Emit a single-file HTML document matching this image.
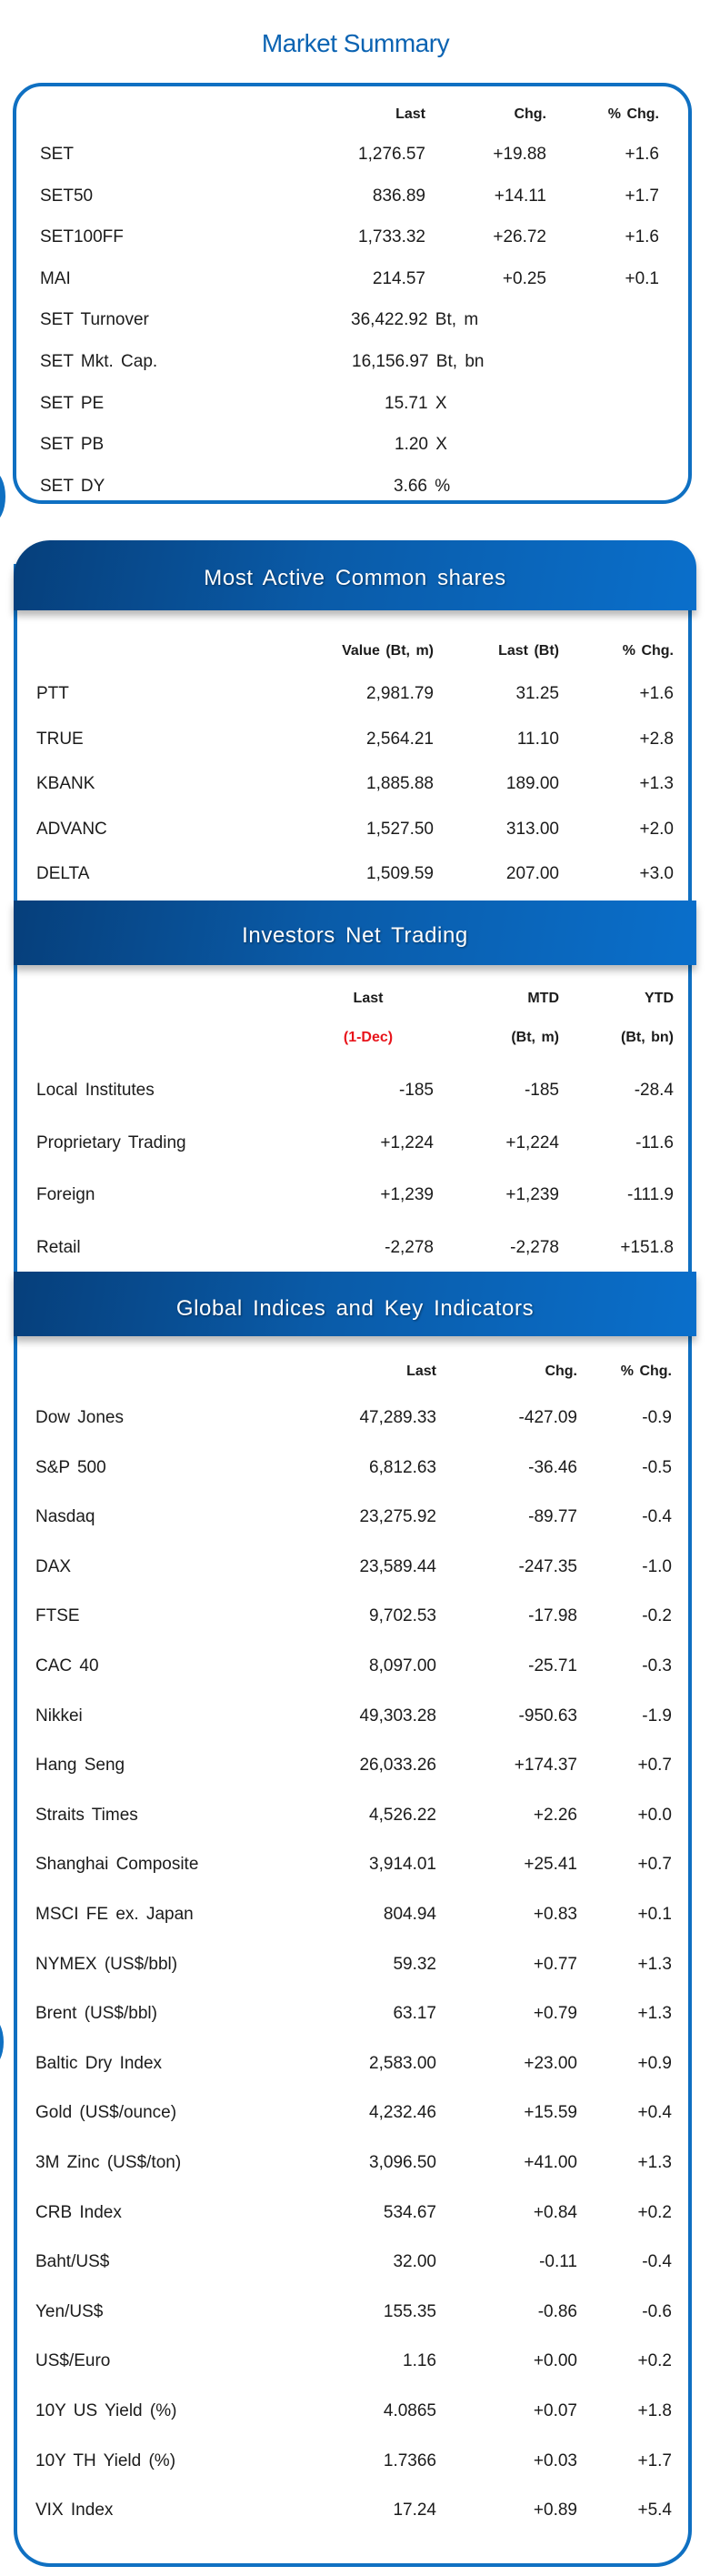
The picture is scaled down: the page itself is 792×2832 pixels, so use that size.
<!DOCTYPE html>
<html><head><meta charset="utf-8">
<style>
*{margin:0;padding:0;box-sizing:border-box}
body{width:792px;height:2832px;background:#fff;position:relative;overflow:hidden;font-family:"Liberation Sans",Arial,sans-serif;color:#1b1b1b}
.abs{position:absolute}
.t{position:absolute;white-space:nowrap;transform:translateY(-50%);font-size:19px;word-spacing:3px;line-height:24px}
.b{font-weight:bold;font-size:16px;word-spacing:2px}
.hdr{position:absolute;left:15px;width:751px;background:linear-gradient(100deg,#063f7b 0%,#0a5ba8 45%,#0a6fcb 100%);color:#fff;font-size:24px;text-align:center;letter-spacing:0.6px;word-spacing:4px;text-shadow:1px 1px 2px rgba(0,0,0,.45);box-shadow:0 6px 8px rgba(0,0,0,.28)}
</style></head><body>
<div class="abs" style="left:0;width:782px;top:32px;text-align:center;font-size:28px;color:#0b63b2;letter-spacing:-0.5px">Market Summary</div>
<div class="abs" style="left:14px;top:91px;width:747px;height:463px;border:4px solid #0f70c2;border-radius:32px"></div>
<div class="abs" style="left:-22px;top:518px;width:28px;height:56px;border-radius:50%;background:#0f70c2"></div>
<div class="abs" style="left:-26px;top:2217px;width:30px;height:56px;border-radius:50%;background:#0f70c2"></div>
<div class="abs" style="left:15px;top:620px;width:746px;height:2202px;border:4px solid #0f70c2;border-top:none;border-radius:0 0 40px 40px"></div>
<div class="hdr" style="top:594px;height:77px;line-height:84px;border-radius:40px 30px 0 0">Most Active Common shares</div>
<div class="hdr" style="top:990px;height:71px;line-height:78px">Investors Net Trading</div>
<div class="hdr" style="top:1398px;height:71px;line-height:82px">Global Indices and Key Indicators</div>
<div id="root"></div>
<script>
const mLabels=["SET","SET50","SET100FF","MAI","SET Turnover","SET Mkt. Cap.","SET PE","SET PB","SET DY"];
const mLast=["1,276.57","836.89","1,733.32","214.57"];
const mChg=["+19.88","+14.11","+26.72","+0.25"];
const mPct=["+1.6","+1.7","+1.6","+0.1"];
const mExtra=["36,422.92 Bt, m","16,156.97 Bt, bn","15.71 X","1.20 X","3.66 %"];
const maLabels=["PTT","TRUE","KBANK","ADVANC","DELTA"];
const maValue=["2,981.79","2,564.21","1,885.88","1,527.50","1,509.59"];
const maLast=["31.25","11.10","189.00","313.00","207.00"];
const maPct=["+1.6","+2.8","+1.3","+2.0","+3.0"];
const inLabels=["Local Institutes","Proprietary Trading","Foreign","Retail"];
const inLast=["-185","+1,224","+1,239","-2,278"];
const inMtd=["-185","+1,224","+1,239","-2,278"];
const inYtd=["-28.4","-11.6","-111.9","+151.8"];
const gLabels=["Dow Jones","S&P 500","Nasdaq","DAX","FTSE","CAC 40","Nikkei","Hang Seng","Straits Times","Shanghai Composite","MSCI FE ex. Japan","NYMEX (US$/bbl)","Brent (US$/bbl)","Baltic Dry Index","Gold (US$/ounce)","3M Zinc (US$/ton)","CRB Index","Baht/US$","Yen/US$","US$/Euro","10Y US Yield (%)","10Y TH Yield (%)","VIX Index"];
const gLast=["47,289.33","6,812.63","23,275.92","23,589.44","9,702.53","8,097.00","49,303.28","26,033.26","4,526.22","3,914.01","804.94","59.32","63.17","2,583.00","4,232.46","3,096.50","534.67","32.00","155.35","1.16","4.0865","1.7366","17.24"];
const gChg=["-427.09","-36.46","-89.77","-247.35","-17.98","-25.71","-950.63","+174.37","+2.26","+25.41","+0.83","+0.77","+0.79","+23.00","+15.59","+41.00","+0.84","-0.11","-0.86","+0.00","+0.07","+0.03","+0.89"];
const gPct=["-0.9","-0.5","-0.4","-1.0","-0.2","-0.3","-1.9","+0.7","+0.0","+0.7","+0.1","+1.3","+1.3","+0.9","+0.4","+1.3","+0.2","-0.4","-0.6","+0.2","+1.8","+1.7","+5.4"];
const root=document.getElementById('root');
function txt(s,x,y,align,cls){
  const d=document.createElement('div');
  d.className='t '+(cls||'');
  d.textContent=s;
  d.style.top=y+'px';
  if(align==='r'){d.style.right=(792-x)+'px';d.style.textAlign='right';}
  else if(align==='c'){d.style.left=(x-100)+'px';d.style.width='200px';d.style.textAlign='center';}
  else d.style.left=x+'px';
  root.appendChild(d);
  return d;
}
let e;
e=txt("Last",468,126,'r','b');


e=txt("Chg.",601,126,'r','b');


e=txt("% Chg.",725,126,'r','b');


const extraLeft=[386,387,423,434,433];
mLabels.forEach((l,i)=>{
  const y=170+i*45.6;
  e=txt(l,44,y,'l');
  
  
  if(i<4){
    e=txt(mLast[i],468,y,'r');
    
    
    e=txt(mChg[i],601,y,'r');
    
    
    e=txt(mPct[i],725,y,'r');
    
    
  } else {
    e=txt(mExtra[i-4],extraLeft[i-4],y,'l');
    
    
  }
});
e=txt("Value (Bt, m)",477,716,'r','b');


e=txt("Last (Bt)",615,716,'r','b');


e=txt("% Chg.",741,716,'r','b');


maLabels.forEach((l,i)=>{
  const y=763+i*49.5;
  e=txt(l,40,y,'l');
  
  
  e=txt(maValue[i],477,y,'r');
  
  
  e=txt(maLast[i],615,y,'r');
  
  
  e=txt(maPct[i],741,y,'r');
  
  
});
e=txt("Last",405,1098,'c','b');


e=txt("MTD",615,1098,'r','b');


e=txt("YTD",741,1098,'r','b');


e=txt("(1-Dec)",405,1141,'c','b');
e.style.color='#e8141b';


e=txt("(Bt, m)",615,1141,'r','b');


e=txt("(Bt, bn)",741,1141,'r','b');


inLabels.forEach((l,i)=>{
  const y=1199+i*57.7;
  e=txt(l,40,y,'l');
  
  
  e=txt(inLast[i],477,y,'r');
  
  
  e=txt(inMtd[i],615,y,'r');
  
  
  e=txt(inYtd[i],741,y,'r');
  
  
});
e=txt("Last",480,1508,'r','b');


e=txt("Chg.",635,1508,'r','b');


e=txt("% Chg.",739,1508,'r','b');


gLabels.forEach((l,i)=>{
  const y=1559+i*54.6;
  e=txt(l,39,y,'l');
  
  
  e=txt(gLast[i],480,y,'r');
  
  
  e=txt(gChg[i],635,y,'r');
  
  
  e=txt(gPct[i],739,y,'r');
  
  
});
</script>
</body></html>
